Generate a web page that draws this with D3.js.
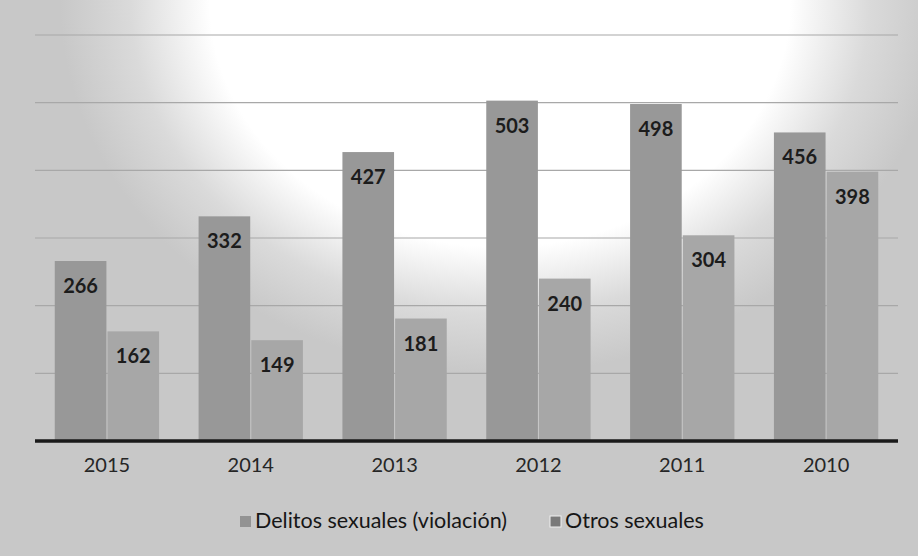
<!DOCTYPE html>
<html>
<head>
<meta charset="utf-8">
<script src="https://cdn.jsdelivr.net/npm/d3@7"></script>
<style>
  html, body { margin: 0; padding: 0; background: #c8c8c8; }
  svg { display: block; }
</style>
</head>
<body>
<div id="chart"></div>
<script>
// Delitos sexuales por año (columnas agrupadas, escala de grises)
const YEARS = ["2015", "2014", "2013", "2012", "2011", "2010"];
const SERIES = ["Delitos sexuales (violación)", "Otros sexuales"];
const VIOLACION = [266, 332, 427, 503, 498, 456];
const OTROS = [162, 149, 181, 240, 304, 398];
const Y_TICKS = [0, 100, 200, 300, 400, 500, 600];
const COLORS = ["#989898", "#a7a7a7"];

const totalW = 918, totalH = 556;
const rows = YEARS.map((y, i) => ({ year: y, values: [VIOLACION[i], OTROS[i]] }));

const svg = d3.select("#chart").append("svg")
  .attr("width", totalW).attr("height", totalH);

/* ── Background: scanned grey paper with a lighter glare ── */
const defs = svg.append("defs");
const grad = defs.append("radialGradient").attr("id", "glare")
  .attr("gradientUnits", "userSpaceOnUse")
  .attr("cx", 500).attr("cy", 0).attr("r", 440)
  .attr("fx", 500).attr("fy", 0)
  .attr("gradientTransform", "translate(500,0) scale(1,0.85) translate(-500,0)");
grad.append("stop").attr("offset", "0%").attr("stop-color", "#ffffff");
grad.append("stop").attr("offset", "66%").attr("stop-color", "#ffffff");
grad.append("stop").attr("offset", "84%").attr("stop-color", "#dadada");
grad.append("stop").attr("offset", "100%").attr("stop-color", "#c8c8c8");

svg.append("rect").attr("width", totalW).attr("height", totalH).attr("fill", "url(#glare)");

/* ── Scales ── */
const x0 = d3.scaleBand().domain(YEARS).range([35, 898])
  .paddingInner(0.26).paddingOuter(0.13);
const x1 = d3.scaleBand().domain([0, 1]).range([0, x0.bandwidth()]).padding(0.02);
const y = d3.scaleLinear().domain([0, 600]).range([441, 35]);

/* ── Grid ── */
svg.append("g").selectAll("line").data(Y_TICKS.slice(1)).join("line")
  .attr("x1", 35).attr("x2", 898)
  .attr("y1", d => y(d)).attr("y2", d => y(d))
  .attr("stroke", "#a8a8a8").attr("stroke-width", 1.2);

/* ── Bars ── */
const groups = svg.append("g").selectAll("g").data(rows).join("g")
  .attr("transform", d => `translate(${x0(d.year)},0)`);

groups.selectAll("rect").data(d => d.values).join("rect")
  .attr("x", (d, i) => x1(i))
  .attr("width", x1.bandwidth())
  .attr("y", d => y(d))
  .attr("height", d => y(0) - y(d))
  .attr("fill", (d, i) => COLORS[i]);

groups.selectAll("text").data(d => d.values).join("text")
  .attr("x", (d, i) => x1(i) + x1.bandwidth() / 2)
  .attr("y", d => y(d) + 32)
  .attr("text-anchor", "middle")
  .attr("font-family", "Lato, 'Open Sans', sans-serif")
  .attr("font-size", 20).attr("font-weight", 700)
  .attr("fill", "#1c1c1c")
  .text(d => d);

/* ── Baseline + category axis ── */
svg.append("g").attr("transform", `translate(0,${y(0)})`)
  .call(d3.axisBottom(x0).tickSize(0).tickPadding(17))
  .call(ax => ax.select(".domain").attr("stroke", "#1a1a1a").attr("stroke-width", 3.5)
    .attr("d", "M35,0H898"))
  .selectAll("text")
  .attr("font-family", "Lato, 'Open Sans', sans-serif")
  .attr("font-size", 20).attr("fill", "#262626");

/* ── Legend ── */
const legendX = [240, 550];
const legend = svg.append("g").selectAll("g").data(SERIES).join("g")
  .attr("transform", (d, i) => `translate(${legendX[i]},516)`);
legend.append("rect").attr("width", 11).attr("height", 11)
  .attr("fill", (d, i) => i === 0 ? "#939393" : "#7a7a7a")
  .attr("stroke", (d, i) => i === 0 ? "none" : "#f0f0f0").attr("stroke-width", 1);
legend.append("text").attr("x", 15).attr("y", 12)
  .attr("font-family", "Lato, 'Open Sans', sans-serif")
  .attr("font-size", 21.5).attr("fill", "#161616")
  .text(d => d);
</script>
</body>
</html>
